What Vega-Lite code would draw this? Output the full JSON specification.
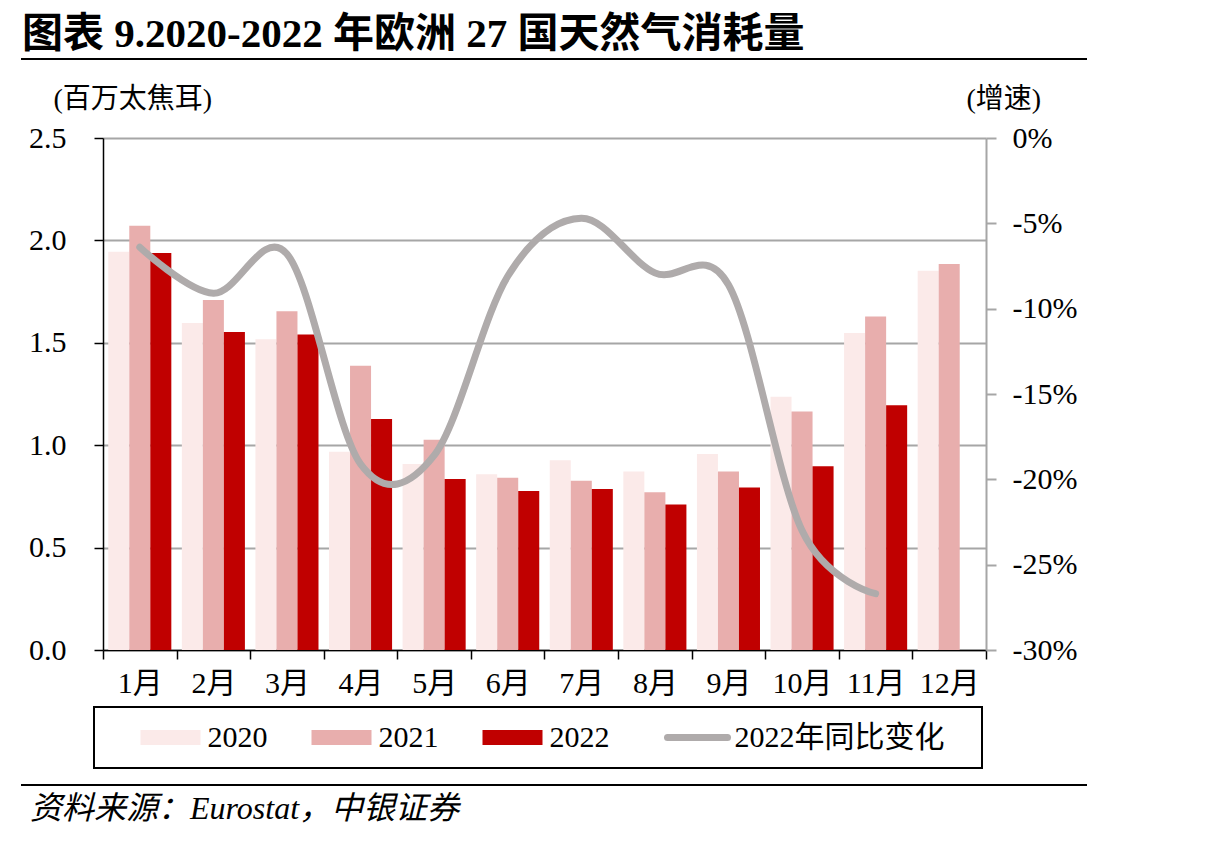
{
  "$schema": "https://vega.github.io/schema/vega-lite/v6.json",
  "padding": {"left": 21, "top": 13, "right": 0, "bottom": 0},
  "background": "white",
  "config": {"view": {"stroke": null}, "font": "Liberation Serif, Noto Sans CJK SC", "legend": {"strokeWidth": 2}},
  "datasets": {
    "bars": [
      {"month": "1月", "year": "2020", "value": 1.945}, {"month": "1月", "year": "2021", "value": 2.072}, {"month": "1月", "year": "2022", "value": 1.938},
      {"month": "2月", "year": "2020", "value": 1.597}, {"month": "2月", "year": "2021", "value": 1.709}, {"month": "2月", "year": "2022", "value": 1.553},
      {"month": "3月", "year": "2020", "value": 1.517}, {"month": "3月", "year": "2021", "value": 1.654}, {"month": "3月", "year": "2022", "value": 1.541},
      {"month": "4月", "year": "2020", "value": 0.968}, {"month": "4月", "year": "2021", "value": 1.388}, {"month": "4月", "year": "2022", "value": 1.128},
      {"month": "5月", "year": "2020", "value": 0.908}, {"month": "5月", "year": "2021", "value": 1.027}, {"month": "5月", "year": "2022", "value": 0.835},
      {"month": "6月", "year": "2020", "value": 0.858}, {"month": "6月", "year": "2021", "value": 0.841}, {"month": "6月", "year": "2022", "value": 0.776},
      {"month": "7月", "year": "2020", "value": 0.926}, {"month": "7月", "year": "2021", "value": 0.827}, {"month": "7月", "year": "2022", "value": 0.786},
      {"month": "8月", "year": "2020", "value": 0.872}, {"month": "8月", "year": "2021", "value": 0.770}, {"month": "8月", "year": "2022", "value": 0.710},
      {"month": "9月", "year": "2020", "value": 0.957}, {"month": "9月", "year": "2021", "value": 0.872}, {"month": "9月", "year": "2022", "value": 0.794},
      {"month": "10月", "year": "2020", "value": 1.237}, {"month": "10月", "year": "2021", "value": 1.164}, {"month": "10月", "year": "2022", "value": 0.897},
      {"month": "11月", "year": "2020", "value": 1.548}, {"month": "11月", "year": "2021", "value": 1.629}, {"month": "11月", "year": "2022", "value": 1.195},
      {"month": "12月", "year": "2020", "value": 1.852}, {"month": "12月", "year": "2021", "value": 1.885}
    ],
    "yoy": [
      {"month": "1月", "yoy": -6.4}, {"month": "2月", "yoy": -9.1}, {"month": "3月", "yoy": -6.8},
      {"month": "4月", "yoy": -19.1}, {"month": "5月", "yoy": -18.6}, {"month": "6月", "yoy": -8.1},
      {"month": "7月", "yoy": -4.7}, {"month": "8月", "yoy": -7.9}, {"month": "9月", "yoy": -8.6},
      {"month": "10月", "yoy": -23.0}, {"month": "11月", "yoy": -26.7}
    ],
    "blank": [{}]
  },
  "spacing": 19,
  "vconcat": [
    {
      "width": 1064,
      "height": 0.001,
      "view": {"stroke": "black", "strokeWidth": 2},
      "title": {"text": "图表 9.2020-2022 年欧洲 27 国天然气消耗量", "anchor": "start", "font": "Liberation Serif, Noto Sans CJK SC", "fontSize": 41, "fontWeight": "bold", "color": "black", "offset": -3},
      "data": {"name": "blank"},
      "mark": "text",
      "encoding": {}
    },
    {
      "spacing": 80,
      "vconcat": [
        {
          "spacing": 5,
          "hconcat": [
            {"width": 1, "height": 1, "data": {"name": "blank"}, "mark": "text", "encoding": {}},
            {
              "width": 883,
              "height": 512,
              "resolve": {"scale": {"y": "independent"}},
              "layer": [
                {
                  "data": {"name": "bars"},
                  "mark": {"type": "bar"},
                  "encoding": {
                    "x": {
                      "field": "month", "type": "ordinal",
                      "sort": ["1月","2月","3月","4月","5月","6月","7月","8月","9月","10月","11月","12月"],
                      "scale": {"paddingInner": 0, "paddingOuter": 0},
                      "axis": {"title": null, "tickBand": "extent", "labelAngle": 0, "labelFontSize": 30, "labelFont": "Liberation Serif, Noto Sans CJK SC", "labelColor": "black", "labelPadding": 9, "domainColor": "black", "domainWidth": 1.5, "tickColor": "black", "tickWidth": 1.5, "tickSize": 9, "grid": false}
                    },
                    "xOffset": {"field": "year", "type": "nominal", "scale": {"paddingInner": 0, "paddingOuter": 0.25}},
                    "y": {
                      "field": "value", "type": "quantitative",
                      "scale": {"domain": [0, 2.5], "nice": false},
                      "axis": {"title": "(百万太焦耳)", "titleAngle": 0, "titleAlign": "left", "titleBaseline": "middle", "titleX": -50, "titleY": -39, "titleFont": "Liberation Serif, Noto Sans CJK SC", "titleFontSize": 28, "titleFontWeight": "normal", "titleColor": "black",
                               "values": [0, 0.5, 1, 1.5, 2, 2.5], "format": ".1f", "labelFontSize": 30, "labelFont": "Liberation Serif", "labelColor": "black", "labelPadding": 28, "labelFlush": false, "labelOverlap": false,
                               "domainColor": "black", "domainWidth": 1.5, "tickColor": "black", "tickWidth": 1.5, "tickSize": 9, "grid": true, "gridColor": "#A6A6A6", "gridWidth": 2}
                    },
                    "color": {
                      "field": "year", "type": "nominal",
                      "scale": {"domain": ["2020", "2021", "2022", "2022年同比变化"], "range": ["#FBEAE9", "#E8AEAD", "#C00000", "#AFABAB"]},
                      "legend": {
                        "orient": "none", "legendX": 72, "legendY": 648, "direction": "horizontal",
                        "title": " ", "titleOrient": "left", "titleFontSize": 30, "titlePadding": 46,
                        "strokeColor": "black", "padding": 15.5,
                        "symbolSize": 900, "symbolType": "M-2,-0.5H2V0.5H-2Z",
                        "labelOffset": 22, "columnPadding": 44,
                        "labelFontSize": 30, "labelFont": "Liberation Serif, Noto Sans CJK SC", "labelColor": "black", "labelLimit": 400, "labelBaseline": "middle",
                        "labelExpr": "datum.value === '2022年同比变化' ? datum.label + '\u2800' : datum.label",
                        "encode": {
                          "symbols": {
                            "update": {
                              "shape": {"signal": "datum.value === '2022年同比变化' ? 'M-2,0H2' : 'M-2,-0.5H2V0.5H-2Z'"},
                              "fill": {"signal": "datum.value === '2022年同比变化' ? 'transparent' : scale('color', datum.value)"},
                              "stroke": {"signal": "datum.value === '2022年同比变化' ? '#AFABAB' : 'transparent'"},
                              "strokeWidth": {"signal": "datum.value === '2022年同比变化' ? 7 : 0"},
                              "strokeCap": {"value": "round"},
                              "opacity": {"value": 1}
                            }
                          }
                        }
                      }
                    }
                  }
                },
                {
                  "data": {"name": "yoy"},
                  "mark": {"type": "line", "interpolate": "cardinal", "tension": 0, "strokeWidth": 7, "strokeCap": "round", "strokeJoin": "round"},
                  "encoding": {
                    "x": {"field": "month", "type": "ordinal", "sort": ["1月","2月","3月","4月","5月","6月","7月","8月","9月","10月","11月","12月"]},
                    "y": {
                      "field": "yoy", "type": "quantitative",
                      "scale": {"domain": [-30, 0], "nice": false},
                      "axis": {"orient": "right", "title": "(增速)", "titleAngle": 0, "titleAlign": "left", "titleBaseline": "middle", "titleX": -20, "titleY": -39, "titleFont": "Liberation Serif, Noto Sans CJK SC", "titleFontSize": 28, "titleFontWeight": "normal", "titleColor": "black",
                               "values": [0, -5, -10, -15, -20, -25, -30], "labelExpr": "datum.value + '%'", "labelFontSize": 30, "labelFont": "Liberation Serif", "labelColor": "black", "labelPadding": 16, "labelFlush": false, "labelOverlap": false,
                               "domainColor": "#A6A6A6", "domainWidth": 2, "tickColor": "#A6A6A6", "tickWidth": 2, "tickSize": 10, "grid": false}
                    },
                    "color": {"datum": "2022年同比变化", "type": "nominal"}
                  }
                }
              ]
            }
          ]
        },
        {
          "width": 1064,
          "height": 0.001,
          "view": {"stroke": "black", "strokeWidth": 2},
          "title": {"text": "资料来源：Eurostat，中银证券", "orient": "bottom", "anchor": "start", "font": "Liberation Serif, Noto Sans CJK SC", "fontSize": 32, "fontStyle": "italic", "fontWeight": "normal", "color": "black", "offset": 4, "dx": 8},
          "data": {"name": "blank"},
          "mark": "text",
          "encoding": {}
        }
      ]
    }
  ]
}
